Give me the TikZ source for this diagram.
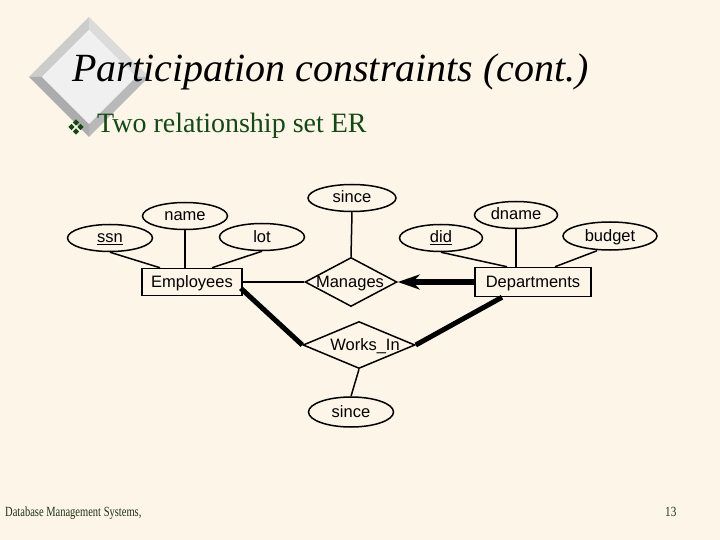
\documentclass[tikz,border=0pt]{standalone}
\usepackage{fontspec}
\usepackage{graphicx}
\setmainfont{Liberation Serif}
\setsansfont{Liberation Sans}
\usetikzlibrary{shapes.geometric,arrows.meta}
\definecolor{bg}{RGB}{254,245,233}
\definecolor{dgreen}{RGB}{20,72,20}
\definecolor{foot}{RGB}{30,50,20}
\begin{document}
\begin{tikzpicture}[x=1pt,y=-1pt,
  erfont/.style={font=\sffamily\fontsize{16.5}{16.5}\selectfont,text height=12pt,text depth=2pt},
  attr/.style={ellipse,draw,line width=1.5pt,inner sep=0pt,minimum width=85pt,minimum height=27pt,erfont},
  ent/.style={rectangle,draw,line width=1.5pt,inner sep=0pt,minimum height=27pt,erfont},
  rel/.style={diamond,draw,line width=1.5pt,inner sep=0pt},
  lbl/.style={erfont,inner sep=0pt},
  ln/.style={line width=1.5pt},
  heavy/.style={line width=5pt}]
\fill[bg] (0,0) rectangle (720,540);
% beveled diamond decoration
\coordinate (dT) at (89,17); \coordinate (dR) at (149,77);
\coordinate (dB) at (89,137); \coordinate (dL) at (29,77);
\coordinate (iT) at (89,30); \coordinate (iR) at (136,77);
\coordinate (iB) at (89,124); \coordinate (iL) at (42,77);
\fill[gray!40] (dT) -- (iT) -- (iL) -- (dL) -- cycle;
\fill[gray!28] (dT) -- (dR) -- (iR) -- (iT) -- cycle;
\fill[gray!55] (dR) -- (dB) -- (iB) -- (iR) -- cycle;
\fill[gray!65] (dB) -- (dL) -- (iL) -- (iB) -- cycle;
\fill[gray!12] (iT) -- (iR) -- (iB) -- (iL) -- cycle;
% title
\node[anchor=base west,inner sep=0pt] (title) at (72,82) {\fontsize{40}{40}\selectfont\itshape Participation constraints (cont.)};
% bullet
\foreach \dx/\dy in {0/-4.5,4.5/0,0/4.5,-4.5/0}
  \fill[dgreen] (76+\dx,127+\dy) +(0,-3.2) -- +(3.2,0) -- +(0,3.2) -- +(-3.2,0) -- cycle;
\node[anchor=base west,inner sep=0pt,text=dgreen] (sub) at (97,133) {\fontsize{28}{28}\selectfont Two relationship set ER};
% ER diagram
\node[attr] (ssn) at (110,238) {\underline{ssn}};
\node[attr] (name) at (185,216) {name};
\node[attr] (lot) at (262,237) {lot};
\node[ent,minimum width=100pt] (emp) at (192,282) {Employees};
\node[attr,minimum width=88pt] (since1) at (352,198) {since};
\node[rel,minimum width=92pt,minimum height=49pt,label={[lbl,xshift=-1pt]center:Manages}] (man) at (351,282) {};
\node[attr,minimum width=83pt] (did) at (441,238) {\underline{did}};
\node[attr,minimum width=83pt] (dname) at (516,215) {dname};
\node[attr,minimum width=94pt,minimum height=28pt] (budget) at (610,236) {budget};
\node[ent,minimum width=116pt,minimum height=29pt] (dep) at (533,282) {Departments};
\node[rel,minimum width=112pt,minimum height=47pt,label={[lbl,xshift=6pt]center:Works\_In}] (wi) at (359,345) {};
\node[attr,minimum height=30pt] (since2) at (351,412) {since};
% connectors
\draw[ln] (ssn.south) -- ([xshift=-32pt]emp.north);
\draw[ln] (name.south) -- (name.south |- emp.north);
\draw[ln] (lot.south) -- ([xshift=20pt]emp.north);
\draw[ln] (emp.east) -- (man.west);
\draw[ln] (since1.south) -- (man.north);
\draw[ln] (did.south) -- ([xshift=-26pt]dep.north);
\draw[ln] (dname.south) -- (dname.south |- dep.north);
\draw[ln] ([xshift=-13pt]budget.south) -- ([xshift=22pt]dep.north);
\draw[line width=6pt,-{Stealth[length=22pt,width=15pt,inset=7pt]}] (dep.west) -- (man.east);
\draw[heavy] ([shift={(-2pt,8pt)}]emp.south east) -- (wi.west);
\draw[heavy] ([xshift=-31pt]dep.south) -- (wi.east);
\draw[ln] (wi.south) -- (since2.north);
% footer
\node[anchor=base west,inner sep=0pt,text=foot] (foot) at (5,516) {\fontsize{14}{14}\selectfont\scalebox{0.75}[1]{Database Management Systems,}};
\node[anchor=base west,inner sep=0pt,text=foot] (page) at (665,516) {\fontsize{14}{14}\selectfont\scalebox{0.8}[1]{13}};
\end{tikzpicture}
\end{document}
